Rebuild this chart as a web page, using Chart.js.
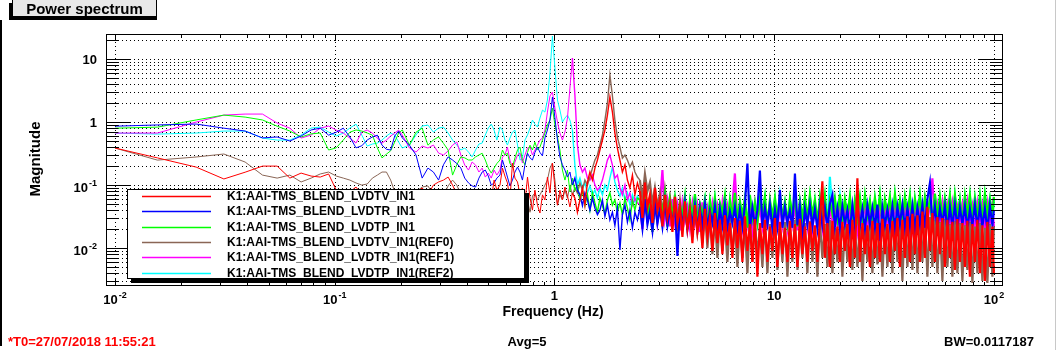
<!DOCTYPE html>
<html>
<head>
<meta charset="utf-8">
<title>Power spectrum</title>
<script src="https://cdn.jsdelivr.net/npm/chart.js"></script>
<style>
  html, body { margin: 0; padding: 0; background: #fff; overflow: hidden; }
  #wrap { width: 1058px; height: 350px; }
</style>
</head>
<body>
<div id="wrap"><canvas id="spectrum" width="1058" height="350"></canvas></div>
<script>
// frequency points (Hz): low bins, then sampled points through the peaks and the noise floor
const freq = [
  0.0100, 0.0156, 0.0234, 0.0313, 0.0391, 0.0469, 0.0547, 0.0625, 0.0703, 0.0781,
  0.0859, 0.0938, 0.1016, 0.1094, 0.1172, 0.1250, 0.1328, 0.1406, 0.1484, 0.1563,
  0.1641, 0.1719, 0.1797, 0.1875, 0.1953, 0.2031, 0.2188, 0.2344, 0.2500, 0.2656,
  0.2813, 0.2969, 0.3125, 0.3281, 0.3438, 0.3594, 0.3750, 0.3906, 0.4063, 0.4219,
  0.4375, 0.4531, 0.4688, 0.4844, 0.5000, 0.5156, 0.5313, 0.5469,
  0.565, 0.580, 0.595, 0.611, 0.627, 0.644, 0.661, 0.679, 0.697, 0.715,
  0.734, 0.754, 0.774, 0.794, 0.815, 0.837, 0.859, 0.882, 0.905, 0.929,
  0.954, 0.979, 1.005, 1.032, 1.059, 1.087, 1.116, 1.146, 1.176, 1.207,
  1.239, 1.272, 1.306, 1.341, 1.376, 1.413, 1.450, 1.489, 1.528, 1.569,
  1.610, 1.653, 1.697, 1.742, 1.788, 1.836, 1.884, 1.934, 1.986, 2.038,
  2.093, 2.148, 2.205, 2.264, 2.324, 2.386,
  2.449, 2.514, 2.581, 2.650, 2.720, 2.792, 2.866, 2.942, 3.020, 3.100,
  3.183, 3.267, 3.354, 3.443, 3.534, 3.628, 3.724, 3.823, 3.924, 4.028,
  4.135, 4.245, 4.358, 4.473, 4.592, 4.714, 4.839, 4.967, 5.099, 5.234,
  5.373, 5.516, 5.662, 5.813, 5.967, 6.125, 6.288, 6.455, 6.626, 6.802,
  6.983, 7.168, 7.358, 7.554, 7.754, 7.960, 8.171, 8.388, 8.611, 8.839,
  9.074, 9.315, 9.562, 9.816, 10.08, 10.34, 10.62, 10.90, 11.19, 11.49,
  11.79, 12.10, 12.43, 12.76, 13.09, 13.44, 13.80, 14.16, 14.54, 14.93,
  15.32, 15.73, 16.15, 16.57, 17.01, 17.47, 17.93, 18.41, 18.89, 19.40,
  19.91, 20.44, 20.98, 21.54, 22.11, 22.70, 23.30, 23.92, 24.56, 25.21,
  25.88, 26.56, 27.27, 27.99, 28.74, 29.50, 30.28, 31.09, 31.91, 32.76,
  33.63, 34.52, 35.44, 36.38, 37.34, 38.33, 39.35, 40.40, 41.47, 42.57,
  43.70, 44.86, 46.05, 47.27, 48.53, 49.81, 51.14, 52.49, 53.88, 55.31,
  56.78, 58.29, 59.84, 61.43, 63.06, 64.73, 66.45, 68.21, 70.02, 71.88,
  73.79, 75.75, 77.76, 79.82, 81.94, 84.11, 86.35, 88.64, 90.99, 93.40,
  95.88, 98.43, 100.0
];

// K1:AAI-TMS_BLEND_LVDTV_IN1 (red)
const lvdtv = [
  .387,.27,.193,.125,.16,.20,.20,.129,.155,.139, .134,.15,.083,.067,.078,.093,.07,.058,.075,.062,
  .048,.07,.058,.047,.067,.078,.058,.075,.09,.07, .10,.112,.12,.134,.10,.07,.048,.058,.037,.048,
  .058,.04,.07,.034,.083,.058,.12,.083,
  .10,.186,.139,.108,.058,.224,.129,.112,.07,.09, .052,.134,.062,.04,.083,.048,.036,.07,.058,.134,
  .075,.224,.093,.048,.083,.058,.093,.067,.045,.075, .062,.037,.058,.09,.048,.112,.161,.12,.186,.249,
  .36,.52,.746,1.29,2.5,1.44,.67,.387,.249,.161, .21,.12,.09,.144,.07,.108,
  .080,.030,.110,.045,.070,.025,.090,.040,.060,.022, .070,.030,.050,.018,.065,.025,.045,.015,.055,.020,
  .040,.012,.048,.018,.035,.010,.042,.015,.030,.009, .036,.012,.028,.008,.033,.011,.025,.007,.030,.010,
  .027,.006,.032,.009,.024,.006,.029,.0035,.025,.008, .028,.006,.022,.009,.030,.005,.026,.008,.021,.006,
  .027,.007,.024,.005,.029,.008,.022,.006,.026,.009, .023,.006,.028,.115,.007,.025,.005,.027,.008,.022,
  .006,.026,.009,.024,.005,.028,.007,.128,.006,.025, .008,.023,.005,.027,.007,.025,.006,.029,.008,.024,
  .006,.027,.009,.030,.005,.028,.007,.032,.006,.035, .008,.033,.006,.038,.007,.045,.009,.036,.006,.031,
  .008,.030,.005,.028,.007,.026,.0045,.029,.006,.025, .005,.027,.0035,.024,.006,.028,.004,.023,.003,.026,
  .005,.022,.004
];

// K1:AAI-TMS_BLEND_LVDTR_IN1 (blue)
const lvdtr = [
  .86,.90,.93,.80,.72,.56,.58,.50,.60,.75, .80,.62,.69,.80,.58,.39,.42,.52,.58,.62,
  .43,.37,.36,.60,.72,.56,.43,.30,.129,.186, .161,.12,.21,.28,.25,.22,.186,.129,.108,.097,
  .093,.129,.161,.173,.139,.10,.108,.129,
  .144,.25,.186,.134,.097,.12,.161,.193,.161,.12, .21,.32,.27,.25,.33,.40,.33,.29,.56,.75,
  1.08,2.5,1.16,.52,.28,.21,.173,.134,.161,.10, .129,.083,.07,.047,.075,.058,.04,.062,.043,.034,
  .04,.058,.032,.048,.028,.037,.023,.043,.0093,.034, .048,.026,.04,.021,.037,.028,
  .045,.021,.060,.024,.038,.019,.050,.025,.042,.022, .055,.023,.040,.026,.048,.0075,.044,.022,.052,.020,
  .040,.024,.047,.020,.043,.023,.050,.021,.039,.025, .046,.019,.042,.023,.049,.021,.038,.025,.045,.020,
  .041,.022,.047,.220,.020,.044,.023,.040,.170,.021, .043,.024,.048,.020,.040,.022,.083,.021,.045,.025,
  .039,.021,.153,.023,.046,.013,.042,.024,.048,.022, .041,.020,.047,.023,.044,.021,.050,.070,.022,.043,
  .021,.046,.024,.040,.019,.048,.022,.045,.023,.042, .020,.047,.024,.043,.021,.049,.013,.044,.023,.041,
  .022,.046,.020,.045,.024,.048,.021,.043,.022,.047, .020,.044,.024,.049,.021,.060,.108,.023,.046,.021,
  .043,.024,.047,.019,.045,.022,.048,.021,.044,.024, .046,.020,.042,.023,.048,.021,.045,.022,.043,.019,
  .047,.023,.040
];

// K1:AAI-TMS_BLEND_LVDTP_IN1 (green)
const lvdtp = [
  .80,.83,1.08,1.29,1.20,1.08,.86,.72,.58,.65, .67,.36,.39,.52,.69,.75,.72,.67,.62,.39,
  .27,.31,.35,.48,.67,.75,.43,.69,.80,.43, .52,.58,.46,.36,.144,.21,.28,.27,.25,.25,
  .28,.30,.32,.25,.186,.155,.186,.22,
  .25,.36,.30,.32,.22,.19,.27,.36,.40,.25, .21,.33,.43,.36,.48,.36,.40,.52,.67,.90,
  1.08,1.67,.90,.58,.36,.173,.12,.173,.078,.129, .083,.097,.058,.083,.048,.07,.04,.075,.052,.037,
  .062,.047,.035,.058,.075,.048,.058,.037,.052,.034, .062,.043,.028,.058,.04,.062,
  .060,.025,.075,.030,.055,.018,.065,.028,.050,.035, .070,.022,.058,.030,.062,.025,.048,.033,.066,.020,
  .055,.030,.072,.026,.050,.034,.060,.022,.057,.031, .064,.027,.052,.036,.068,.024,.058,.030,.075,.028,
  .055,.033,.062,.021,.070,.030,.053,.026,.060,.035, .066,.024,.058,.031,.063,.027,.072,.030,.054,.025,
  .061,.034,.067,.022,.057,.030,.065,.028,.070,.033, .059,.026,.064,.031,.068,.024,.056,.035,.062,.029,
  .071,.027,.060,.032,.066,.023,.058,.030,.064,.028, .069,.033,.057,.026,.063,.031,.070,.025,.060,.034,
  .066,.028,.072,.030,.058,.027,.065,.033,.068,.024, .061,.031,.070,.028,.064,.035,.059,.026,.073,.030,
  .066,.029,.062,.033,.069,.027,.071,.031,.060,.025, .067,.032,.070,.028,.063,.030,.068,.026,.072,.034,
  .061,.030,.065
];

// K1:AAI-TMS_BLEND_LVDTV_IN1(REF0) (brown)
const lvdtvRef0 = [
  .387,.249,.279,.311,.232,.144,.129,.144,.112,.129, .15,.161,.139,.129,.12,.108,.10,.104,.129,.144,
  .161,.161,.12,.078,.062,.07,.058,.078,.093,.097, .07,.058,.067,.097,.12,.10,.07,.058,.067,.048,
  .062,.078,.058,.04,.052,.067,.048,.058,
  .062,.048,.07,.04,.058,.034,.052,.062,.04,.075, .048,.058,.037,.067,.075,.058,.07,.083,.10,.12,
  .186,.224,.12,.048,.07,.058,.083,.062,.10,.07, .09,.075,.108,.083,.12,.10,.134,.186,.249,.30,
  .432,.622,1.076,2.0,5.57,2.59,1.076,.578,.40,.268, .30,.249,.193,.232,.161,.134,
  .120,.060,.150,.080,.110,.050,.090,.045,.075,.035, .085,.040,.065,.030,.070,.025,.055,.020,.060,.022,
  .045,.015,.050,.018,.038,.012,.042,.010,.035,.008, .030,.007,.034,.009,.026,.006,.031,.008,.024,.005,
  .028,.007,.022,.004,.030,.006,.025,.008,.021,.005, .027,.004,.024,.007,.029,.0045,.022,.006,.026,.0035,
  .023,.006,.028,.0045,.021,.007,.025,.004,.027,.006, .022,.0035,.026,.007,.024,.005,.028,.004,.021,.006,
  .025,.0035,.023,.006,.027,.0045,.022,.005,.026,.003, .024,.006,.028,.004,.022,.0055,.025,.0035,.027,.005,
  .023,.004,.029,.006,.026,.003,.030,.005,.028,.0045, .032,.004,.030,.006,.034,.0035,.031,.005,.028,.004,
  .026,.003,.029,.005,.024,.0035,.027,.004,.025,.003, .023,.0045,.026,.0028,.022,.004,.025,.003,.021,.0028,
  .024,.0035,.022
];

// K1:AAI-TMS_BLEND_LVDTR_IN1(REF1) (magenta)
const lvdtrRef1 = [
  .669,.669,1.0,1.29,1.34,1.34,.964,.80,.557,.622, .80,.864,.746,.669,.557,.464,.694,.746,.669,.557,
  .464,.518,.60,.669,.746,.622,.387,.334,.416,.387, .432,.322,.30,.347,.432,.482,.30,.208,.173,.232,
  .208,.161,.186,.134,.155,.129,.173,.144,
  .173,.279,.30,.401,.249,.186,.232,.30,.322,.224, .30,.387,.401,.30,.36,.432,.518,.557,.746,1.44,
  2.59,2.99,1.67,1.0,.669,.518,.694,1.16,3.46,10.4, 2.68,.432,.208,.161,.186,.129,.12,.144,.10,.083,
  .093,.12,.173,.249,.30,.208,.129,.144,.09,.07, .10,.058,.075,.048,.062,.052,
  .050,.020,.065,.028,.045,.018,.058,.025,.048,.173, .030,.055,.022,.060,.026,.047,.019,.052,.027,.044,
  .021,.050,.025,.046,.018,.053,.024,.042,.020,.049, .026,.045,.019,.051,.023,.044,.020,.048,.153,.025,
  .046,.021,.052,.024,.043,.019,.050,.026,.045,.022, .048,.020,.053,.025,.044,.018,.049,.023,.046,.021,
  .051,.024,.045,.019,.050,.026,.047,.022,.052,.020, .044,.025,.049,.021,.053,.018,.046,.024,.050,.022,
  .047,.026,.043,.020,.051,.023,.048,.019,.045,.025, .052,.021,.046,.024,.049,.018,.044,.026,.050,.022,
  .047,.020,.053,.025,.045,.019,.051,.023,.048,.021, .050,.024,.046,.020,.055,.026,.049,.128,.022,.047,
  .025,.051,.019,.046,.023,.050,.021,.044,.026,.048, .020,.052,.024,.045,.018,.049,.023,.047,.021,.050,
  .025,.046,.022
];

// K1:AAI-TMS_BLEND_LVDTP_IN1(REF2) (cyan)
const lvdtpRef2 = [
  .669,.645,.669,.72,.72,.557,.518,.518,.622,.803, .833,.694,.60,.669,.803,.929,.622,.416,.448,.464,
  .518,.60,.669,.622,.482,.387,.432,.622,.864,.896, .694,.803,.833,.669,.518,.432,.36,.387,.334,.279,
  .36,.448,.464,.622,.803,.929,.746,.518,
  .833,.746,.518,.432,.557,.694,.746,.432,.249,.268, .518,.622,.803,1.076,.929,.833,1.158,1.55,1.44,2.24,
  6.0,23.2,7.2,2.24,1.55,1.0,1.158,1.29,1.076,.746, .208,.10,.129,.09,.108,.075,.097,.07,.083,.062,
  .09,.07,.10,.083,.129,.193,.112,.083,.067,.09, .058,.075,.048,.07,.054,.067,
  .055,.024,.068,.030,.050,.020,.062,.027,.047,.033, .065,.022,.054,.029,.059,.024,.046,.031,.061,.021,
  .052,.028,.066,.025,.048,.032,.057,.021,.053,.029, .060,.026,.049,.034,.063,.023,.055,.028,.069,.027,
  .051,.031,.058,.022,.064,.028,.050,.025,.056,.033, .062,.023,.054,.030,.059,.026,.067,.028,.051,.024,
  .057,.032,.062,.021,.053,.029,.060,.027,.065,.031, .055,.025,.060,.030,.063,.023,.135,.034,.058,.028,
  .066,.026,.056,.031,.061,.022,.054,.029,.060,.027, .064,.031,.053,.025,.059,.030,.066,.024,.056,.032,
  .062,.027,.067,.029,.055,.026,.061,.031,.064,.023, .057,.030,.065,.027,.060,.033,.056,.025,.068,.029,
  .062,.028,.058,.031,.064,.026,.066,.030,.057,.024, .063,.031,.066,.027,.059,.029,.064,.025,.067,.032,
  .058,.029,.061
];

const seriesLabels = [
  'K1:AAI-TMS_BLEND_LVDTV_IN1',
  'K1:AAI-TMS_BLEND_LVDTR_IN1',
  'K1:AAI-TMS_BLEND_LVDTP_IN1',
  'K1:AAI-TMS_BLEND_LVDTV_IN1(REF0)',
  'K1:AAI-TMS_BLEND_LVDTR_IN1(REF1)',
  'K1:AAI-TMS_BLEND_LVDTP_IN1(REF2)'
];
const seriesValues = [lvdtv, lvdtr, lvdtp, lvdtvRef0, lvdtrRef1, lvdtpRef2];
const seriesColors = ['#ff0000', '#0000ff', '#00ff00', '#8a6656', '#ff00ff', '#00ffff'];

// axis ticks: value, mantissa text, exponent text
const xTickValues = [0.01, 0.1, 1, 10, 100];
const xTickLabels = [['10', '-2'], ['10', '-1'], ['1', ''], ['10', ''], ['10', '2']];
const yTickValues = [0.01, 0.1, 1, 10];
const yTickLabels = [['10', '-2'], ['10', '-1'], ['1', ''], ['10', '']];

const FONT = '"Liberation Sans", Arial, Helvetica, sans-serif';

function decadeSteps(min, max) {
  const out = [];
  for (let e = -4; e <= 3; e++) {
    for (let k = 1; k <= 9; k++) {
      const v = k * Math.pow(10, e);
      if (v >= min && v <= max) out.push({ v, major: k === 1 });
    }
  }
  return out;
}

// dense noise floor: thicker strokes so the many spikes read as a band
function segmentWidth(c) {
  const f = c.p0.parsed.x;
  if (f >= 2.4) return 2.2;
  if (f >= 1.2) return 1.4;
  return 1;
}

// ROOT-like frame, grid, ticks, legend and texts
const rootStyle = {
  id: 'rootStyle',
  beforeDraw(chart) {
    const ctx = chart.ctx;
    ctx.save();
    ctx.fillStyle = '#fff';
    ctx.fillRect(0, 0, chart.width, chart.height);
    ctx.restore();
  },
  beforeDatasetsDraw(chart) {
    const ctx = chart.ctx;
    const { left, right, top, bottom } = chart.chartArea;
    const xs = chart.scales.x, ys = chart.scales.y;
    ctx.save();
    ctx.strokeStyle = '#000';
    ctx.lineWidth = 1;
    ctx.setLineDash([1, 3]);
    xTickValues.forEach(v => {
      const px = Math.round(xs.getPixelForValue(v)) + 0.5;
      ctx.beginPath(); ctx.moveTo(px, top); ctx.lineTo(px, bottom); ctx.stroke();
    });
    decadeSteps(ys.min, ys.max).forEach(t => {
      const py = Math.round(ys.getPixelForValue(t.v)) + 0.5;
      ctx.beginPath(); ctx.moveTo(left, py); ctx.lineTo(right, py); ctx.stroke();
    });
    ctx.restore();
  },
  afterDatasetsDraw(chart) {
    const ctx = chart.ctx;
    const { left, right, top, bottom } = chart.chartArea;
    const xs = chart.scales.x, ys = chart.scales.y;
    ctx.save();
    ctx.strokeStyle = '#000';
    ctx.fillStyle = '#000';
    ctx.lineWidth = 1;

    // frame
    ctx.strokeRect(left + 0.5, top + 0.5, right - left - 1, bottom - top - 1);

    // x ticks, bottom and top
    ctx.beginPath();
    decadeSteps(xs.min, xs.max).forEach(t => {
      const px = Math.round(xs.getPixelForValue(t.v)) + 0.5;
      const len = t.major ? 7 : 4;
      ctx.moveTo(px, bottom); ctx.lineTo(px, bottom - len);
      ctx.moveTo(px, top); ctx.lineTo(px, top + len);
    });
    // y ticks, left and right
    decadeSteps(ys.min, ys.max).forEach(t => {
      const py = Math.round(ys.getPixelForValue(t.v)) + 0.5;
      const len = t.major ? 24 : 12;
      ctx.moveTo(left, py); ctx.lineTo(left + len, py);
      ctx.moveTo(right, py); ctx.lineTo(right - len, py);
    });
    ctx.stroke();

    // tick labels
    const baseFont = 'bold 13px ' + FONT;
    const supFont = 'bold 9px ' + FONT;
    ctx.textBaseline = 'alphabetic';
    ctx.textAlign = 'left';
    xTickValues.forEach((v, i) => {
      const [base, sup] = xTickLabels[i];
      const px = xs.getPixelForValue(v);
      ctx.font = baseFont;
      const wb = ctx.measureText(base).width;
      ctx.font = supFont;
      const ws = sup ? ctx.measureText(sup).width + 1 : 0;
      const x0 = px - (wb + ws) / 2;
      ctx.font = baseFont;
      ctx.fillText(base, x0, sup ? 304 : 300);
      if (sup) { ctx.font = supFont; ctx.fillText(sup, x0 + wb + 1, 298); }
    });
    yTickValues.forEach((v, i) => {
      const [base, sup] = yTickLabels[i];
      const py = ys.getPixelForValue(v);
      ctx.font = supFont;
      const ws = sup ? ctx.measureText(sup).width + 1 : 0;
      ctx.font = baseFont;
      const wb = ctx.measureText(base).width;
      const xr = 97;
      ctx.fillText(base, xr - ws - wb, sup ? py + 7 : py + 4.5);
      if (sup) { ctx.font = supFont; ctx.fillText(sup, xr - ws + 1, py + 1); }
    });

    // axis titles
    ctx.font = 'bold 14px ' + FONT;
    ctx.textAlign = 'center';
    ctx.fillText('Frequency (Hz)', 553, 316);
    ctx.save();
    ctx.translate(40, 159);
    ctx.rotate(-Math.PI / 2);
    ctx.font = 'bold 15px ' + FONT;
    ctx.fillText('Magnitude', 0, 0);
    ctx.restore();

    // legend box with shadow
    const lx = 127, ly = 189, lw = 398, lh = 90;
    ctx.fillStyle = '#000';
    ctx.fillRect(lx + 4, ly + 4, lw, lh);
    ctx.fillStyle = '#fff';
    ctx.fillRect(lx, ly, lw, lh);
    ctx.strokeRect(lx + 0.5, ly + 0.5, lw - 1, lh - 1);
    ctx.font = 'bold 12px ' + FONT;
    ctx.textAlign = 'left';
    ctx.textBaseline = 'middle';
    chart.data.datasets.forEach((ds, i) => {
      const ry = Math.round(ly + 7 + i * 15.3) + 0.5;
      ctx.strokeStyle = ds.borderColor;
      ctx.lineWidth = 1.5;
      ctx.beginPath(); ctx.moveTo(142, ry); ctx.lineTo(211, ry); ctx.stroke();
      ctx.fillStyle = '#000';
      ctx.fillText(ds.label, 227, ry + 0.5);
    });
    ctx.lineWidth = 1;

    // title pave
    ctx.fillStyle = '#000';
    ctx.fillRect(9, 3, 148, 17);
    ctx.fillStyle = '#e8e8e8';
    ctx.fillRect(12, 0, 145, 17);
    ctx.strokeStyle = '#000';
    ctx.strokeRect(12.5, -0.5, 144, 17);
    ctx.fillStyle = '#000';
    ctx.font = 'bold 15px ' + FONT;
    ctx.textAlign = 'center';
    ctx.textBaseline = 'alphabetic';
    ctx.fillText('Power spectrum', 84.5, 14);

    // pad borders
    ctx.fillRect(0, 20, 2, 326);
    ctx.fillStyle = '#c8c8c8';
    ctx.fillRect(1055, 0, 1, 350);

    // footer
    ctx.font = 'bold 13px ' + FONT;
    ctx.fillStyle = '#ff0000';
    ctx.textAlign = 'left';
    ctx.fillText('*T0=27/07/2018 11:55:21', 8, 346);
    ctx.fillStyle = '#000';
    ctx.textAlign = 'center';
    ctx.fillText('Avg=5', 527, 346);
    ctx.textAlign = 'right';
    ctx.fillText('BW=0.0117187', 1034, 346);
    ctx.restore();
  }
};

const ctx = document.getElementById('spectrum').getContext('2d');
new Chart(ctx, {
  type: 'line',
  data: {
    datasets: seriesValues.map((vals, i) => ({
      label: seriesLabels[i],
      data: freq.map((f, j) => ({ x: f, y: vals[j] })),
      borderColor: seriesColors[i],
      backgroundColor: seriesColors[i],
      borderWidth: 1,
      pointRadius: 0,
      tension: 0,
      fill: false,
      segment: { borderWidth: segmentWidth }
    }))
  },
  options: {
    responsive: false,
    animation: false,
    devicePixelRatio: 1,
    events: [],
    layout: { padding: { top: 34, right: 55, left: 0, bottom: 0 } },
    scales: {
      x: {
        type: 'logarithmic',
        min: 0.0091,
        max: 110,
        bounds: 'data',
        grid: { display: false },
        border: { display: false },
        ticks: { display: false },
        afterFit: s => { s.height = 64; }
      },
      y: {
        type: 'logarithmic',
        min: 0.0025,
        max: 25,
        bounds: 'data',
        grid: { display: false },
        border: { display: false },
        ticks: { display: false },
        afterFit: s => { s.width = 106; }
      }
    },
    plugins: {
      legend: { display: false },
      tooltip: { enabled: false }
    }
  },
  plugins: [rootStyle]
});
</script>
</body>
</html>
